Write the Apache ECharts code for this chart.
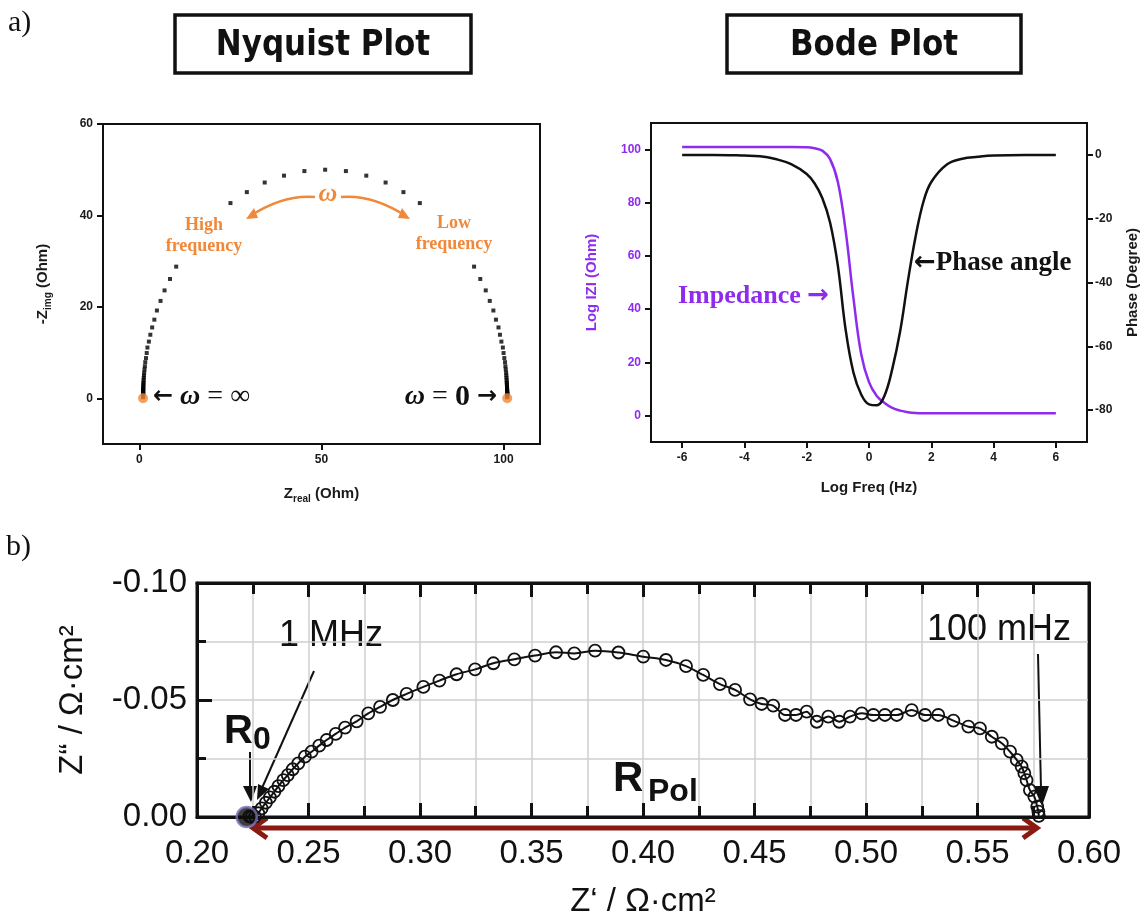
<!DOCTYPE html>
<html>
<head>
<meta charset="utf-8">
<title>Nyquist / Bode plots</title>
<script src="https://cdn.jsdelivr.net/npm/echarts@6/dist/echarts.min.js"></script>
<style>
  html, body { margin: 0; padding: 0; background: #fff; }
  #main { width: 1145px; height: 922px; }
</style>
</head>
<body>
<div id="main"></div>
<script>
// ---------- a) Nyquist plot: points ----------
// high-frequency branch (left half), points hidden behind the label are not listed
var nyqHighRe = [51.0, 45.3, 39.7, 34.4, 29.5, 25.0,
  10.1, 8.4, 6.9, 5.8, 4.8, 4.1, 3.5, 3.0, 2.6, 2.2,
  2.0, 1.8, 1.6, 1.5, 1.4, 1.3, 1.25, 1.2, 1.16, 1.13,
  1.1, 1.08, 1.06, 1.05, 1.04, 1.03, 1.03, 1.02, 1.02, 1.01,
  1.01, 1.01, 1.01, 1.0, 1.0, 1.0, 1.0];
var nyqHighIm = [50.0, 49.7, 48.7, 47.2, 45.1, 42.7,
  28.8, 26.1, 23.6, 21.3, 19.2, 17.2, 15.5, 13.9, 12.4, 11.1,
  9.9, 8.8, 7.9, 7.0, 6.3, 5.6, 5.0, 4.5, 4.0, 3.5,
  3.2, 2.8, 2.5, 2.2, 2.0, 1.8, 1.6, 1.4, 1.3, 1.1,
  1.0, 0.9, 0.8, 0.7, 0.6, 0.4, 0.2];
// low-frequency branch (right half)
var nyqLowRe = [56.7, 62.3, 67.6, 72.5, 77.0,
  91.9, 93.6, 95.1, 96.2, 97.2, 97.9, 98.6, 99.0, 99.4, 99.8,
  100.0, 100.2, 100.4, 100.5, 100.6, 100.7, 100.75, 100.8, 100.84, 100.87,
  100.9, 100.92, 100.94, 100.95, 100.96, 100.97, 100.97, 100.98, 100.98, 100.99,
  100.99, 100.99, 101.0, 101.0, 101.0, 101.0];
var nyqLowIm = [49.7, 48.7, 47.2, 45.1, 42.7,
  28.8, 26.1, 23.6, 21.3, 19.2, 17.2, 15.5, 13.9, 12.4, 11.1,
  9.9, 8.8, 7.9, 7.0, 6.3, 5.6, 5.0, 4.5, 4.0, 3.5,
  3.2, 2.8, 2.5, 2.2, 2.0, 1.8, 1.6, 1.4, 1.3, 1.1,
  1.0, 0.9, 0.8, 0.6, 0.4, 0.2];
var nyqEndRe = [1, 101];
var nyqEndIm = [0, 0];
var nyqXTicks = [0, 50, 100];
var nyqYTicks = [0, 20, 40, 60];

// ---------- a) Bode plot ----------
var bodeFreq = [-6, -5, -4, -3.5, -3, -2.5, -2, -1.75, -1.5, -1.25, -1, -0.75, -0.5, -0.25,
  0, 0.25, 0.5, 0.75, 1, 1.25, 1.5, 1.75, 2, 2.5, 3, 3.5, 4, 5, 6];
var impVal = [101, 101, 101, 101, 101, 101, 100.9, 100.5, 99.6, 96.4, 87.8, 69.4, 44.2, 23.0,
  12.5, 7.3, 4.7, 2.8, 1.8, 1.2, 0.9, 0.8, 0.8, 0.8, 0.8, 0.8, 0.8, 0.8, 0.8];
var phaseVal = [0, 0, -0.2, -0.4, -1.3, -2.9, -6.0, -8.9, -13.5, -21.2, -34.7, -54.8, -68.2, -75.1,
  -78.2, -78.5, -75.4, -67.0, -55.3, -39.5, -25.4, -14.6, -8.5, -3.0, -1.2, -0.6, -0.2, 0, 0];
var bodeXTicks = [-6, -4, -2, 0, 2, 4, 6];
var bodeLeftTicks = [0, 20, 40, 60, 80, 100];
var bodeRightTicks = [-80, -60, -40, -20, 0];

// ---------- b) measured impedance spectrum ----------
var eisRe = [0.2235, 0.2245, 0.2260, 0.2275, 0.2290, 0.2309, 0.2327, 0.2347, 0.2365, 0.2387,
  0.2407, 0.2429, 0.2454, 0.2484, 0.2514, 0.2548, 0.2581, 0.2622, 0.2664, 0.2716,
  0.2768, 0.2821, 0.2878, 0.2940, 0.3015, 0.3087, 0.3164, 0.3247, 0.3329, 0.3423,
  0.3516, 0.3610, 0.3692, 0.3785, 0.3890, 0.4001, 0.4103, 0.4193, 0.4270, 0.4345,
  0.4413, 0.4480, 0.4532, 0.4584, 0.4637, 0.4686, 0.4734, 0.4779, 0.4831, 0.4880,
  0.4928, 0.4981, 0.5033, 0.5085, 0.5138, 0.5205, 0.5265, 0.5324, 0.5392, 0.5459,
  0.5511, 0.5564, 0.5609, 0.5646, 0.5676, 0.5698, 0.5710, 0.5720, 0.5735, 0.5755,
  0.5768, 0.5773, 0.5775];
var eisIm = [-0.0003, -0.0001, -0.0002, -0.0016, -0.0037, -0.0061, -0.0084, -0.0108, -0.0132, -0.0158,
  -0.0179, -0.0204, -0.0229, -0.0258, -0.0279, -0.0305, -0.0329, -0.0355, -0.0382, -0.0409,
  -0.0443, -0.0471, -0.0500, -0.0526, -0.0556, -0.0583, -0.0610, -0.0631, -0.0657, -0.0674,
  -0.0690, -0.0704, -0.0699, -0.0711, -0.0703, -0.0685, -0.0671, -0.0645, -0.0607, -0.0568,
  -0.0543, -0.0503, -0.0483, -0.0476, -0.0436, -0.0436, -0.0450, -0.0407, -0.0429, -0.0407,
  -0.0429, -0.0443, -0.0436, -0.0436, -0.0436, -0.0457, -0.0436, -0.0436, -0.0412, -0.0386,
  -0.0379, -0.0343, -0.0315, -0.0279, -0.0244, -0.0215, -0.0187, -0.0158, -0.0115, -0.0087,
  -0.0044, -0.0023, -0.0005];
var r0Re = [0.2223];
var r0Im = [0];

function pairs(xs, ys) {
  return xs.map(function (x, i) { return [x, ys[i]]; });
}

var orange = '#F0883A';
var purple = '#8F2BEF';
var darkRed = '#8B1A12';
var serif = '"Liberation Serif", "DejaVu Serif", serif';
var sans = '"Liberation Sans", Arial, sans-serif';
var arrowFont = '"DejaVu Sans", sans-serif';

var smallLabel = { fontFamily: sans, fontWeight: 'bold', fontSize: 12, color: '#1a1a1a' };
var thinLine = { onZero: false, lineStyle: { color: '#111', width: 2 } };

var myChart = echarts.init(document.getElementById('main'));

var option = {
  animation: false,
  backgroundColor: '#fff',
  grid: [
    { left: 103, top: 124, width: 437, height: 320, show: true, borderColor: '#111', borderWidth: 2 },
    { left: 651, top: 123, width: 436, height: 319, show: true, borderColor: '#111', borderWidth: 2 },
    { left: 197, top: 583, width: 892, height: 234, show: true, borderColor: '#111', borderWidth: 3 }
  ],
  xAxis: [
    {
      gridIndex: 0, type: 'value', min: -10, max: 110,
      name: 'Z{s|real} (Ohm)', nameLocation: 'middle', nameGap: 40,
      nameTextStyle: { fontFamily: sans, fontWeight: 'bold', fontSize: 15, color: '#1a1a1a',
        rich: { s: { fontFamily: sans, fontWeight: 'bold', fontSize: 10, verticalAlign: 'bottom', padding: [10, 0, 0, 0] } } },
      axisLine: thinLine,
      axisTick: { customValues: nyqXTicks, length: 6, lineStyle: { width: 2, color: '#111' } },
      axisLabel: Object.assign({ customValues: nyqXTicks, margin: 10 }, smallLabel),
      splitLine: { show: false }
    },
    {
      gridIndex: 1, type: 'value', min: -7, max: 7,
      name: 'Log Freq (Hz)', nameLocation: 'middle', nameGap: 38,
      nameTextStyle: { fontFamily: sans, fontWeight: 'bold', fontSize: 15, color: '#1a1a1a' },
      axisLine: thinLine,
      axisTick: { customValues: bodeXTicks, length: 6, lineStyle: { width: 2, color: '#111' } },
      axisLabel: Object.assign({ customValues: bodeXTicks, margin: 10 }, smallLabel),
      splitLine: { show: false }
    },
    {
      gridIndex: 2, type: 'value', min: 0.2, max: 0.6, interval: 0.05,
      name: 'Z\u2018 / \u03A9\u00B7cm\u00B2', nameLocation: 'middle', nameGap: 68,
      nameTextStyle: { fontFamily: sans, fontSize: 33, color: '#111' },
      axisLine: { onZero: false, lineStyle: { color: '#111', width: 3 } },
      axisTick: { inside: true, length: 14, lineStyle: { width: 3, color: '#111' } },
      minorTick: { show: true, splitNumber: 2, length: 11, lineStyle: { width: 3, color: '#111' } },
      axisLabel: { fontFamily: sans, fontSize: 33, color: '#111', margin: 20,
        formatter: function (v) { return v.toFixed(2); } },
      splitLine: { show: true, lineStyle: { color: '#cfcfcf', width: 1.5 } },
      minorSplitLine: { show: true, lineStyle: { color: '#cfcfcf', width: 1.5 } }
    },
    {
      gridIndex: 2, type: 'value', min: 0.2, max: 0.6, interval: 0.05, position: 'top',
      axisLine: { show: true, onZero: false, lineStyle: { color: '#111', width: 3 } },
      axisTick: { inside: true, length: 14, lineStyle: { width: 3, color: '#111' } },
      minorTick: { show: true, splitNumber: 2, length: 11, lineStyle: { width: 3, color: '#111' } },
      axisLabel: { show: false },
      splitLine: { show: false }
    }
  ],
  yAxis: [
    {
      gridIndex: 0, type: 'value', min: -10, max: 60,
      name: '-Z{s|img} (Ohm)', nameLocation: 'middle', nameGap: 50, nameRotate: 90,
      nameTextStyle: { fontFamily: sans, fontWeight: 'bold', fontSize: 15, color: '#1a1a1a',
        rich: { s: { fontFamily: sans, fontWeight: 'bold', fontSize: 10, verticalAlign: 'bottom', padding: [10, 0, 0, 0] } } },
      axisLine: thinLine,
      axisTick: { customValues: nyqYTicks, length: 6, lineStyle: { width: 2, color: '#111' } },
      axisLabel: Object.assign({ customValues: nyqYTicks, margin: 10 }, smallLabel),
      splitLine: { show: false }
    },
    {
      gridIndex: 1, type: 'value', min: -10, max: 110, position: 'left',
      name: 'Log IZI (Ohm)', nameLocation: 'middle', nameGap: 52, nameRotate: 90,
      nameTextStyle: { fontFamily: sans, fontWeight: 'bold', fontSize: 15, color: purple },
      axisLine: thinLine,
      axisTick: { customValues: bodeLeftTicks, length: 6, lineStyle: { width: 2, color: '#111' } },
      axisLabel: Object.assign({}, smallLabel, { customValues: bodeLeftTicks, margin: 10, color: purple }),
      splitLine: { show: false }
    },
    {
      gridIndex: 1, type: 'value', min: -90, max: 10, position: 'right',
      name: 'Phase (Degree)', nameLocation: 'middle', nameGap: 38, nameRotate: 90,
      nameTextStyle: { fontFamily: sans, fontWeight: 'bold', fontSize: 15, color: '#1a1a1a' },
      axisLine: { show: true, onZero: false, lineStyle: { color: '#111', width: 2 } },
      axisTick: { customValues: bodeRightTicks, length: 6, lineStyle: { width: 2, color: '#111' } },
      axisLabel: Object.assign({ customValues: bodeRightTicks, margin: 8 }, smallLabel),
      splitLine: { show: false }
    },
    {
      gridIndex: 2, type: 'value', min: -0.1, max: 0, interval: 0.05, inverse: true,
      name: 'Z\u201C / \u03A9\u00B7cm\u00B2', nameLocation: 'middle', nameGap: 108, nameRotate: 90,
      nameTextStyle: { fontFamily: sans, fontSize: 33, color: '#111' },
      axisLine: { onZero: false, lineStyle: { color: '#111', width: 3 } },
      axisTick: { inside: true, length: 15, lineStyle: { width: 3, color: '#111' } },
      minorTick: { show: true, splitNumber: 2, length: 9, lineStyle: { width: 3, color: '#111' } },
      axisLabel: { fontFamily: sans, fontSize: 33, color: '#111', margin: 10,
        formatter: function (v) { return v.toFixed(2); } },
      splitLine: { show: true, lineStyle: { color: '#cfcfcf', width: 1.5 } },
      minorSplitLine: { show: true, lineStyle: { color: '#cfcfcf', width: 1.5 } }
    },
    {
      // right edge of the b) frame
      gridIndex: 2, type: 'value', min: -0.1, max: 0, inverse: true, position: 'right',
      axisLine: { show: true, onZero: false, lineStyle: { color: '#111', width: 3 } },
      axisTick: { show: false }, axisLabel: { show: false }, splitLine: { show: false }
    }
  ],
  series: [
    { type: 'scatter', xAxisIndex: 0, yAxisIndex: 0, data: pairs(nyqHighRe, nyqHighIm),
      symbol: 'rect', symbolSize: 4, itemStyle: { color: '#000' }, silent: true },
    { type: 'scatter', xAxisIndex: 0, yAxisIndex: 0, data: pairs(nyqLowRe, nyqLowIm),
      symbol: 'rect', symbolSize: 4, itemStyle: { color: '#000' }, silent: true },
    { type: 'scatter', xAxisIndex: 0, yAxisIndex: 0, data: pairs(nyqEndRe, nyqEndIm),
      symbol: 'circle', symbolSize: 10, itemStyle: { color: orange }, silent: true, z: 3 },
    { type: 'line', xAxisIndex: 1, yAxisIndex: 1, data: pairs(bodeFreq, impVal),
      smooth: 0.4, showSymbol: false,
      lineStyle: { color: purple, width: 2.5 }, silent: true },
    { type: 'line', xAxisIndex: 1, yAxisIndex: 2, data: pairs(bodeFreq, phaseVal),
      smooth: 0.4, showSymbol: false,
      lineStyle: { color: '#111', width: 2.5 }, silent: true },
    { type: 'line', xAxisIndex: 2, yAxisIndex: 3, data: pairs(eisRe, eisIm),
      smooth: 0.3, symbol: 'circle', symbolSize: 12, showSymbol: true,
      itemStyle: { color: 'rgba(255,255,255,0)', borderColor: '#111', borderWidth: 1.8 },
      lineStyle: { color: '#111', width: 2 }, silent: true, clip: false },
    { type: 'scatter', xAxisIndex: 2, yAxisIndex: 3, data: pairs(r0Re, r0Im),
      symbol: 'circle', symbolSize: 20,
      itemStyle: { color: '#0d0d0d', borderColor: '#7a72b8', borderWidth: 2.5 }, silent: true, z: 4 }
  ],
  graphic: [
    // panel letters
    { type: 'text', style: { x: 8, y: 8, text: 'a)', font: '30px ' + serif, fill: '#111' } },
    { type: 'text', style: { x: 6, y: 532, text: 'b)', font: '30px ' + serif, fill: '#111' } },
    // title boxes
    { type: 'rect', shape: { x: 175, y: 15, width: 296, height: 58 },
      style: { fill: '#fff', stroke: '#111', lineWidth: 3.5 } },
    { type: 'text', x: 323, y: 46, scaleX: 0.86,
      style: { x: 0, y: 0, text: 'Nyquist Plot', textAlign: 'center', align: 'center',
        textVerticalAlign: 'middle', verticalAlign: 'middle',
        font: 'bold 36px "DejaVu Sans", sans-serif', fill: '#111' } },
    { type: 'rect', shape: { x: 727, y: 15, width: 294, height: 58 },
      style: { fill: '#fff', stroke: '#111', lineWidth: 3.5 } },
    { type: 'text', x: 874, y: 46, scaleX: 0.86,
      style: { x: 0, y: 0, text: 'Bode Plot', textAlign: 'center', align: 'center',
        textVerticalAlign: 'middle', verticalAlign: 'middle',
        font: 'bold 36px "DejaVu Sans", sans-serif', fill: '#111' } },

    // Nyquist annotations
    { type: 'text', style: { x: 328, y: 194, text: '\u03C9', textAlign: 'center', align: 'center',
      textVerticalAlign: 'middle', verticalAlign: 'middle', font: 'italic bold 26px ' + serif, fill: orange } },
    { type: 'bezierCurve', shape: { x1: 315, y1: 197, x2: 250, y2: 216, cpx1: 284, cpy1: 194 },
      style: { stroke: orange, lineWidth: 2.5, fill: null } },
    { type: 'polygon', shape: { points: [[246, 219], [258, 218], [254, 208]] }, style: { fill: orange } },
    { type: 'bezierCurve', shape: { x1: 341, y1: 197, x2: 406, y2: 216, cpx1: 372, cpy1: 194 },
      style: { stroke: orange, lineWidth: 2.5, fill: null } },
    { type: 'polygon', shape: { points: [[410, 219], [398, 218], [402, 208]] }, style: { fill: orange } },
    { type: 'text', style: { x: 204, y: 215, text: 'High\nfrequency', textAlign: 'center', align: 'center',
      lineHeight: 21, font: 'bold 18px ' + serif, fill: orange } },
    { type: 'text', style: { x: 454, y: 213, text: 'Low\nfrequency', textAlign: 'center', align: 'center',
      lineHeight: 21, font: 'bold 18px ' + serif, fill: orange } },
    { type: 'text', style: { x: 153, y: 397, text: '{a|\u2190} {w|\u03C9} = \u221E',
      textVerticalAlign: 'middle', verticalAlign: 'middle', font: '28px ' + serif, fill: '#111',
      rich: { a: { font: 'bold 24px ' + arrowFont, fill: '#111' },
              w: { font: 'italic bold 28px ' + serif, fill: '#111' } } } },
    { type: 'text', style: { x: 497, y: 397, text: '{w|\u03C9} = {z|0} {a|\u2192}',
      textAlign: 'right', align: 'right', textVerticalAlign: 'middle', verticalAlign: 'middle',
      font: '28px ' + serif, fill: '#111',
      rich: { a: { font: 'bold 24px ' + arrowFont, fill: '#111' },
              w: { font: 'italic bold 28px ' + serif, fill: '#111' },
              z: { font: 'bold 30px ' + serif, fill: '#111' } } } },

    // Bode annotations
    { type: 'text', style: { x: 678, y: 296, text: 'Impedance {a|\u2192}', textVerticalAlign: 'middle', verticalAlign: 'middle',
      font: 'bold 26px ' + serif, fill: purple,
      rich: { a: { font: 'bold 26px ' + arrowFont, fill: purple } } } },
    { type: 'text', style: { x: 914, y: 263, text: '{a|\u2190}Phase angle', textVerticalAlign: 'middle', verticalAlign: 'middle',
      font: 'bold 27px ' + serif, fill: '#111',
      rich: { a: { font: 'bold 26px ' + arrowFont, fill: '#111' } } } },

    // b) annotations
    { type: 'text', style: { x: 224, y: 712, text: 'R', font: 'bold 40px ' + sans, fill: '#111' } },
    { type: 'text', style: { x: 253, y: 724, text: '0', font: 'bold 32px ' + sans, fill: '#111' } },
    { type: 'line', shape: { x1: 250, y1: 752, x2: 250, y2: 790 }, style: { stroke: '#111', lineWidth: 2 } },
    { type: 'polygon', shape: { points: [[243, 786], [257, 786], [251, 802]] }, style: { fill: '#111' } },
    { type: 'text', style: { x: 331, y: 636, text: '1 MHz', textAlign: 'center', align: 'center',
      textVerticalAlign: 'middle', verticalAlign: 'middle', font: '36px ' + sans, fill: '#111' } },
    { type: 'line', shape: { x1: 314, y1: 671, x2: 262, y2: 788 }, style: { stroke: '#111', lineWidth: 2 } },
    { type: 'polygon', shape: { points: [[257, 800], [269, 789], [258, 784]] }, style: { fill: '#111' } },
    { type: 'text', style: { x: 613, y: 758, text: 'R', font: 'bold 42px ' + sans, fill: '#111' } },
    { type: 'text', style: { x: 648, y: 776, text: 'Pol', font: 'bold 32px ' + sans, fill: '#111' } },
    { type: 'text', style: { x: 999, y: 630, text: '100 mHz', textAlign: 'center', align: 'center',
      textVerticalAlign: 'middle', verticalAlign: 'middle', font: '36px ' + sans, fill: '#111' } },
    { type: 'line', shape: { x1: 1038, y1: 654, x2: 1041, y2: 790 }, style: { stroke: '#111', lineWidth: 2 } },
    { type: 'polygon', shape: { points: [[1033, 786], [1049, 786], [1042, 806]] }, style: { fill: '#111' } },
    // R_Pol double arrow
    { type: 'line', shape: { x1: 256, y1: 828, x2: 1034, y2: 828 }, style: { stroke: darkRed, lineWidth: 5 } },
    { type: 'polyline', shape: { points: [[267, 818], [253, 828], [267, 838]] },
      style: { stroke: darkRed, lineWidth: 5, fill: null } },
    { type: 'polyline', shape: { points: [[1023, 818], [1037, 828], [1023, 838]] },
      style: { stroke: darkRed, lineWidth: 5, fill: null } }
  ]
};

myChart.setOption(option);
</script>
</body>
</html>
